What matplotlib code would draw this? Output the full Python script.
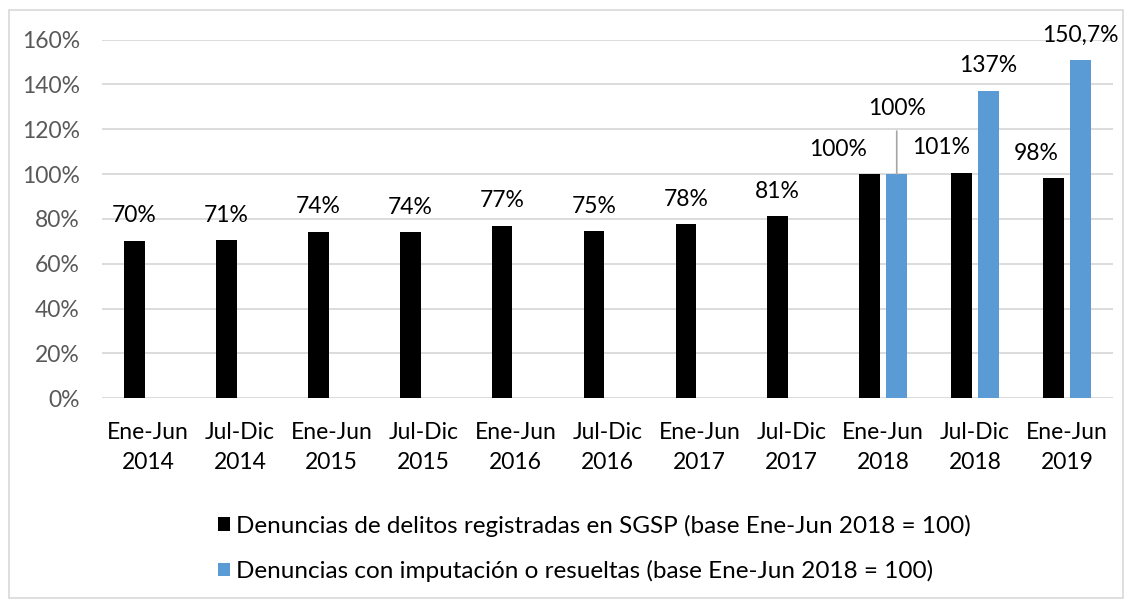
import numpy as np
import matplotlib.pyplot as plt
from matplotlib.patches import Rectangle

# data
periodos = ["Ene-Jun\n2014", "Jul-Dic\n2014", "Ene-Jun\n2015", "Jul-Dic\n2015",
            "Ene-Jun\n2016", "Jul-Dic\n2016", "Ene-Jun\n2017", "Jul-Dic\n2017",
            "Ene-Jun\n2018", "Jul-Dic\n2018", "Ene-Jun\n2019"]
denuncias = [70.2, 70.5, 74.3, 74.0, 76.9, 74.6, 77.6, 81.2, 100.0, 100.6, 98.1]
imputacion = [np.nan] * 8 + [100.0, 137.1, 150.7]
etiq_den = ["70%", "71%", "74%", "74%", "77%", "75%", "78%", "81%", "100%", "101%", "98%"]
etiq_imp = [None] * 8 + ["100%", "137%", "150,7%"]
serie_den = "Denuncias de delitos registradas en SGSP (base Ene-Jun 2018 = 100)"
serie_imp = "Denuncias con imputación o resueltas (base Ene-Jun 2018 = 100)"

plt.rcParams['font.family'] = ['Lato', 'DejaVu Sans']
FS = 16.5

fig = plt.figure(figsize=(11.32, 5.99), dpi=100)
ax = fig.add_axes([102 / 1132, 1 - 398.3 / 599, 1011 / 1132, (398.3 - 39.5) / 599])

x = np.arange(len(periodos))
w = 0.225
off = 0.147
b1 = ax.bar(x - off, denuncias, w, color="black", label=serie_den, zorder=3)
b2 = ax.bar(x + off, imputacion, w, color="#5b9bd5", label=serie_imp, zorder=3)

ax.set_xlim(-0.5, len(periodos) - 0.5)
ax.set_ylim(0, 160)
ax.set_yticks(np.arange(0, 161, 20))
ax.set_yticklabels([f"{v}%" for v in range(0, 161, 20)], color="#595959", fontsize=FS)
ax.set_xticks(x)
ax.set_xticklabels(periodos, fontsize=FS, color="black", linespacing=1.55)
ax.tick_params(axis="both", length=0)
ax.tick_params(axis="y", pad=16)
ax.tick_params(axis="x", pad=17)
ax.grid(axis="y", color="#d9d9d9", linewidth=1.3, zorder=0)
for s in ax.spines.values():
    s.set_visible(False)

# data labels (last three black labels are nudged left, like the original)
shift = [0] * 8 + [-32, -21, -17]
for i, (v, t) in enumerate(zip(denuncias, etiq_den)):
    ax.annotate(t, (x[i] - off, v), xytext=(shift[i], 25), textcoords="offset pixels",
                ha="center", va="center", fontsize=FS)
for i, (v, t) in enumerate(zip(imputacion, etiq_imp)):
    if t is None:
        continue
    if i == 8:
        ax.annotate(t, (x[i] + off, v), xytext=(0, 66), textcoords="offset pixels",
                    ha="center", va="center", fontsize=FS,
                    arrowprops=dict(arrowstyle="-", color="#a6a6a6", lw=1.2,
                                    shrinkA=7, shrinkB=0))
    else:
        ax.annotate(t, (x[i] + off, v), xytext=(0, 25), textcoords="offset pixels",
                    ha="center", va="center", fontsize=FS, annotation_clip=False)

fig.legend(handles=[b1, b2], labels=[serie_den, serie_imp], loc="upper left",
           bbox_to_anchor=(196 / 1132, 1 - 493 / 599), frameon=False, fontsize=17.5,
           handlelength=0.5, handleheight=0.5, handletextpad=0.25, labelspacing=0.95)

fig.patches.append(Rectangle((9 / 1132, 1 / 599), 1114 / 1132, 588 / 599,
                             transform=fig.transFigure, fill=False,
                             edgecolor="#d9d9d9", linewidth=1.2))

fig.savefig("out.png", dpi=100)
